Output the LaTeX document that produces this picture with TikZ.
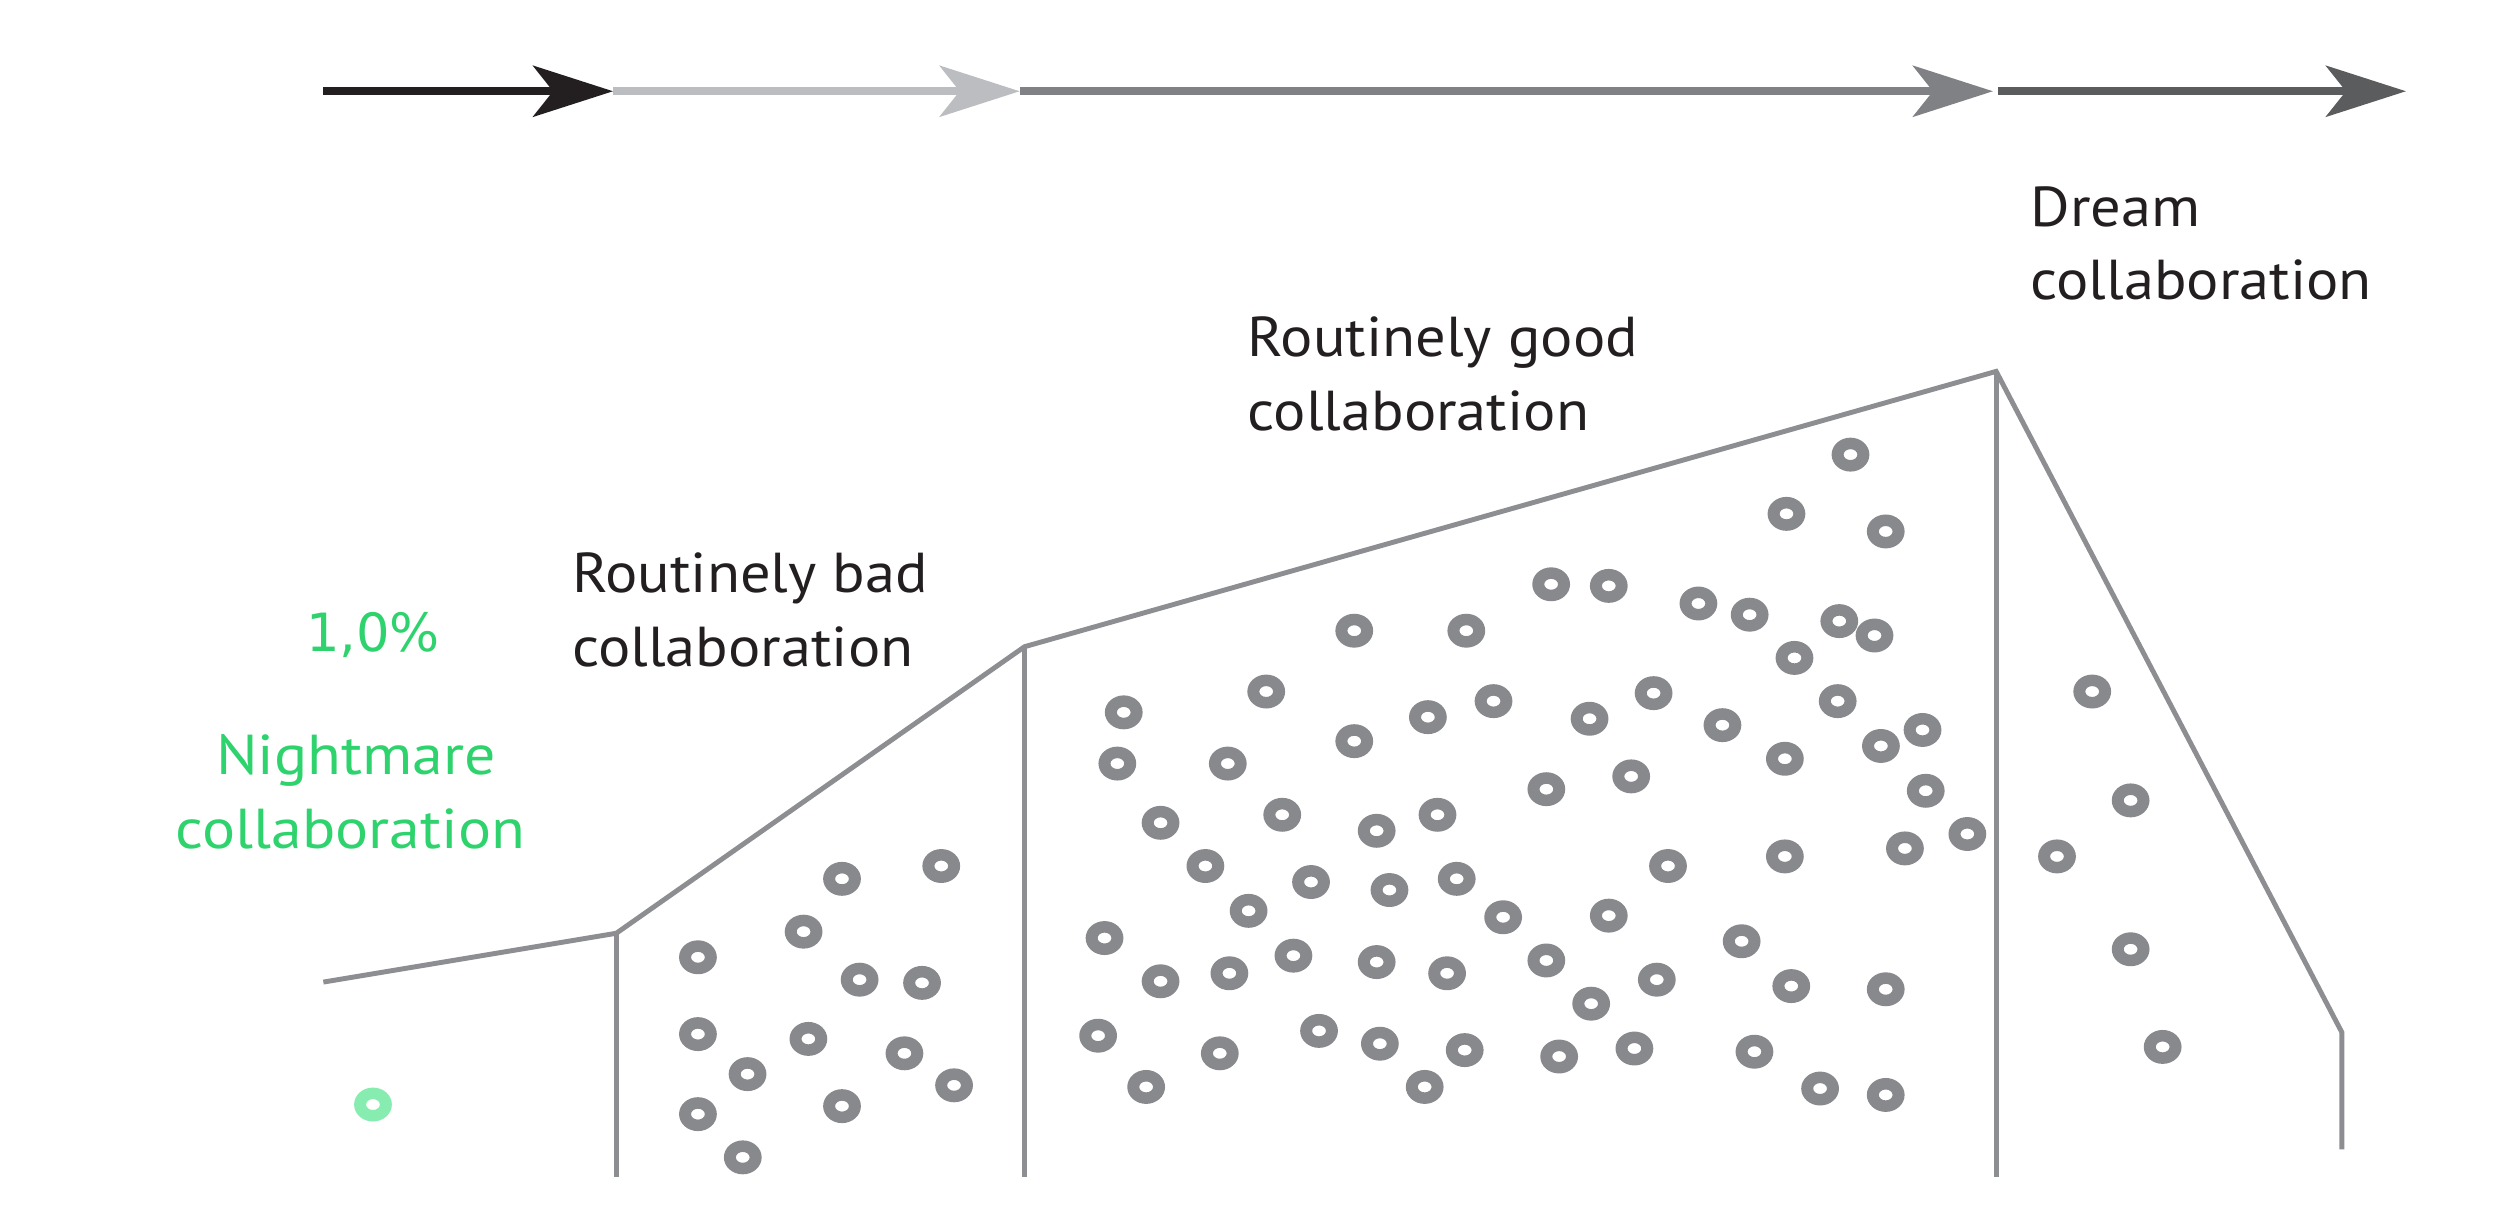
\documentclass[tikz,border=0pt]{standalone}
\usepackage{fontspec}
\setmainfont[FakeStretch=1.075]{PT Sans}
\newfontfamily\greenfont[FakeStretch=1.1]{PT Sans}
\newfontfamily\pctfont{DejaVu Sans}
\usetikzlibrary{arrows.meta}
\definecolor{txtblack}{HTML}{231F20}
\definecolor{arrA}{HTML}{231F20}
\definecolor{arrB}{HTML}{BCBDC0}
\definecolor{arrC}{HTML}{808184}
\definecolor{arrD}{HTML}{5B5C5E}
\definecolor{linegray}{HTML}{8D8E91}
\definecolor{dotgray}{HTML}{88898D}
\definecolor{nightgreen}{HTML}{2FD36E}
\definecolor{dotgreen}{HTML}{86ECB0}
\tikzset{
  arrowseg/.style={line width=2.2pt, -{Stealth[length=0.8cm, width=0.51cm, inset=0.2cm]}},
  outline/.style={draw=linegray, line width=1.4pt, line join=miter},
  lbl/.style={inner sep=0pt, anchor=base west, text=txtblack, font=\fontsize{16}{20}\selectfont},
  glbl/.style={inner sep=0pt, anchor=base, text=nightgreen, font=\greenfont\fontsize{16}{20}\selectfont},
}
\newcommand{\ringdot}[3]{\fill[#1, even odd rule] (#2,#3) ellipse [x radius=11.8, y radius=10.6] (#2,#3) ellipse [x radius=4.3, y radius=3.4];}
\begin{document}
\begin{tikzpicture}[x=0.0160077cm, y=-0.0160077cm]
\useasboundingbox (0,0) rectangle (1568,765);

% top arrow
\coordinate (a0) at (202,57);
\coordinate (a1) at (383,57);
\coordinate (a2) at (637,57);
\coordinate (a3) at (1245,57);
\coordinate (a3b) at (1248,57);
\coordinate (a4) at (1503,57);
\draw[arrowseg, arrA] (a0) -- (a1);
\draw[arrowseg, arrB] (a1) -- (a2);
\draw[arrowseg, arrC] (a2) -- (a3);
\draw[arrowseg, arrD] (a3b) -- (a4);

% outline
\coordinate (p0) at (202,613.5);
\coordinate (p1) at (385,583);
\coordinate (p2) at (640,404);
\coordinate (p3) at (1247,232);
\coordinate (p4) at (1463,645);
\coordinate (p5) at (1463,718);
\coordinate (b1) at (385,735);
\coordinate (b2) at (640,735);
\coordinate (b3) at (1247,735);
\draw[outline] (p0) -- (p1) -- (p2) -- (p3) -- (p4) -- (p5);
\draw[outline] (p1) -- (b1);
\draw[outline] (p2) -- (b2);
\draw[outline] (p3) -- (b3);

% labels
\node[lbl] (bad1) at (357,370.2) {Routinely bad};
\node[lbl] (bad2) at (357,416.5) {collaboration};
\node[lbl] (good1) at (779,222.5) {Routinely good};
\node[lbl] (good2) at (779,268.8) {collaboration};
\node[lbl] (dream1) at (1268,141.6) {Dream};
\node[lbl] (dream2) at (1268,187.4) {collaboration};
\node[glbl] (night1) at (222.5,484) {Nightmare};
\node[glbl] (night2) at (219,530) {collaboration};
\node[inner sep=0pt, anchor=base, text=nightgreen, font=\pctfont\fontsize{15}{18}\selectfont] (pct) at (233,407) {1,0\%};

% green dot
\ringdot{dotgreen}{233}{690}

% dots: routinely bad
\foreach \x/\y in {436/598, 436/646, 436/696, 464/723, 467/671, 502/582, 505/649, 526/549, 526/691, 537/612, 576/614, 565/658, 596/678, 588/541}
  {\ringdot{dotgray}{\x}{\y}}

% dots: routinely good
\foreach \x/\y in {1156/284, 1116/321, 1178/332, 969/365, 1005/366, 1061/377, 1093/384, 1149/388, 1171/397, 846/394, 916/394, 1121/411,
  791/432, 702/445, 892/448, 933/438, 846/463, 698/477, 767/477,
  1033/433, 993/449, 1076/453, 1148/438, 1201/456, 1175/466, 1115/474, 1019/485, 966/493, 1203/494, 1229/521, 1190/530, 1115/535, 1042/541,
  725/514, 801/509, 860/519, 898/509, 753/541, 819/551, 868/556, 910/549, 780/569, 939/573, 690/586, 725/613, 768/608, 808/597, 860/601, 904/608,
  686/647, 716/679, 762/658, 824/644, 862/652, 890/679, 915/656,
  1005/572, 1088/588, 966/600, 1035/612, 1119/616, 1178/618, 994/627, 974/660, 1021/655, 1096/657, 1137/680, 1178/684}
  {\ringdot{dotgray}{\x}{\y}}

% dots: dream
\foreach \x/\y in {1307/432, 1331/500, 1285/535, 1331/593, 1351/654}
  {\ringdot{dotgray}{\x}{\y}}
\end{tikzpicture}
\end{document}
